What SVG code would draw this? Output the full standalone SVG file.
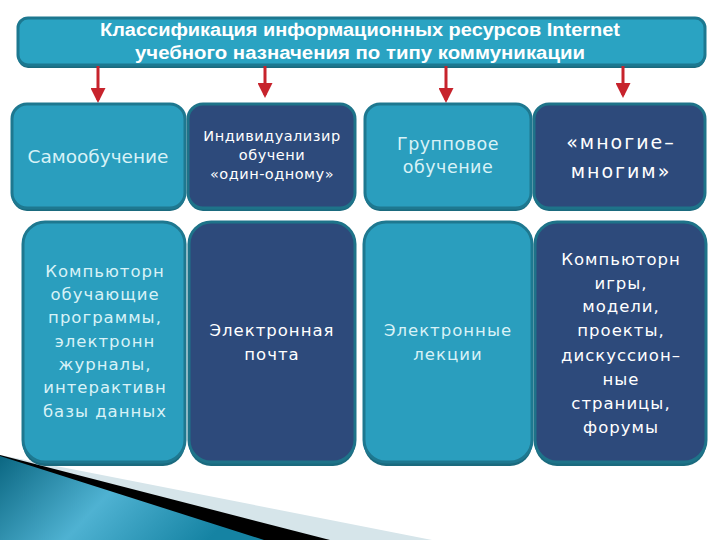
<svg xmlns="http://www.w3.org/2000/svg" width="720" height="540" viewBox="0 0 720 540">
<style>
.sh{fill:#1a6a7e}
.teal{fill:#2a9ebe;stroke:#1e7890;stroke-width:3}
.navy{fill:#2d4a7b;stroke:#1e7389;stroke-width:3}
.tt{font-family:"DejaVu Sans","Verdana",sans-serif;fill:#d8f2f7;text-anchor:middle}
.tn{font-family:"DejaVu Sans","Verdana",sans-serif;fill:#ffffff;text-anchor:middle}
.title{font-family:"Liberation Sans","Arial",sans-serif;font-weight:bold;font-size:18px;fill:#ffffff;text-anchor:middle}
.arr{stroke:#c7232c;stroke-width:3;fill:none}
</style>
<defs>
<marker id="ah" markerWidth="5" markerHeight="5" refX="4" refY="2.5" orient="auto" markerUnits="strokeWidth">
<path d="M0,0 L5,2.5 L0,5 z" fill="#c7232c"/>
</marker>
<linearGradient id="dec" x1="0" y1="0" x2="1" y2="0.3">
<stop offset="0" stop-color="#0b6782"/>
<stop offset="0.5" stop-color="#4fb2d2"/>
<stop offset="1" stop-color="#1583a3"/>
</linearGradient>
</defs>
<rect width="720" height="540" fill="#ffffff"/>
<g id="decoration">
<polygon points="0,455 432,540 0,540" fill="#d6e5ea"/>
<polygon points="0,455 330,540 0,540" fill="#000000"/>
<polygon points="0,456 264,540 0,540" fill="url(#dec)"/>
</g>
<g id="title">
<rect x="18" y="21" width="687" height="47" rx="10" class="sh"/>
<rect x="18" y="18" width="687" height="47" rx="10" fill="#2aa3c2" stroke="#1c7890" stroke-width="3"/>
<text x="360" y="36" class="title" textLength="520" lengthAdjust="spacingAndGlyphs">Классификация информационных ресурсов Internet</text>
<text x="360" y="59" class="title" textLength="450" lengthAdjust="spacingAndGlyphs">учебного назначения по типу коммуникации</text>
</g>
<g id="connectors">
<line x1="98" y1="66" x2="98" y2="100" class="arr" marker-end="url(#ah)"/>
<line x1="265" y1="66" x2="265" y2="95" class="arr" marker-end="url(#ah)"/>
<line x1="446" y1="66" x2="446" y2="100" class="arr" marker-end="url(#ah)"/>
<line x1="623" y1="66" x2="623" y2="95" class="arr" marker-end="url(#ah)"/>
</g>
<g id="top1">
<rect x="12" y="107" width="173" height="104" rx="15" class="sh"/>
<rect x="12" y="104" width="173" height="104" rx="15" class="teal"/>
<text x="98" y="163" class="tt" font-size="18.5">Самообучение</text>
</g>
<g id="top2">
<rect x="188" y="107" width="167" height="104" rx="15" class="sh"/>
<rect x="188" y="104" width="167" height="104" rx="15" class="navy"/>
<text class="tn" font-size="14.5" letter-spacing="0.5"><tspan x="272" y="141">Индивидуализир</tspan><tspan x="272" y="160">обучени</tspan><tspan x="272" y="179">«один-одному»</tspan></text>
</g>
<g id="top3">
<rect x="365" y="107" width="166" height="104" rx="15" class="sh"/>
<rect x="365" y="104" width="166" height="104" rx="15" class="teal"/>
<text class="tt" font-size="17.5" letter-spacing="0.5"><tspan x="448" y="150">Групповое</tspan><tspan x="448" y="173">обучение</tspan></text>
</g>
<g id="top4">
<rect x="534" y="107" width="171" height="104" rx="15" class="sh"/>
<rect x="534" y="104" width="171" height="104" rx="15" class="navy"/>
<text class="tn" font-size="19" letter-spacing="2"><tspan x="621" y="149">«многие–</tspan><tspan x="621" y="178">многим»</tspan></text>
</g>
<g id="bottom1">
<rect x="23" y="226" width="162" height="240" rx="22" class="sh"/>
<rect x="23" y="222" width="162" height="240" rx="22" class="teal"/>
<text class="tt" font-size="16.5" letter-spacing="1"><tspan x="105" y="277">Компьюторн</tspan><tspan x="105" y="300">обучающие</tspan><tspan x="105" y="323">программы,</tspan><tspan x="105" y="347">электронн</tspan><tspan x="105" y="370">журналы,</tspan><tspan x="105" y="393">интерактивн</tspan><tspan x="105" y="417">базы данных</tspan></text>
</g>
<g id="bottom2">
<rect x="189" y="226" width="166" height="240" rx="22" class="sh"/>
<rect x="189" y="222" width="166" height="240" rx="22" class="navy"/>
<text class="tn" font-size="16.5" letter-spacing="1"><tspan x="272" y="336">Электронная</tspan><tspan x="272" y="360">почта</tspan></text>
</g>
<g id="bottom3">
<rect x="364" y="226" width="168" height="240" rx="22" class="sh"/>
<rect x="364" y="222" width="168" height="240" rx="22" class="teal"/>
<text class="tt" font-size="16.5" letter-spacing="1"><tspan x="448" y="336">Электронные</tspan><tspan x="448" y="360">лекции</tspan></text>
</g>
<g id="bottom4">
<rect x="535" y="226" width="171" height="240" rx="22" class="sh"/>
<rect x="535" y="222" width="171" height="240" rx="22" class="navy"/>
<text class="tn" font-size="16.5" letter-spacing="1"><tspan x="621" y="265">Компьюторн</tspan><tspan x="621" y="289">игры,</tspan><tspan x="621" y="312">модели,</tspan><tspan x="621" y="336">проекты,</tspan><tspan x="621" y="361">дискуссион–</tspan><tspan x="621" y="385">ные</tspan><tspan x="621" y="409">страницы,</tspan><tspan x="621" y="433">форумы</tspan></text>
</g>
</svg>
